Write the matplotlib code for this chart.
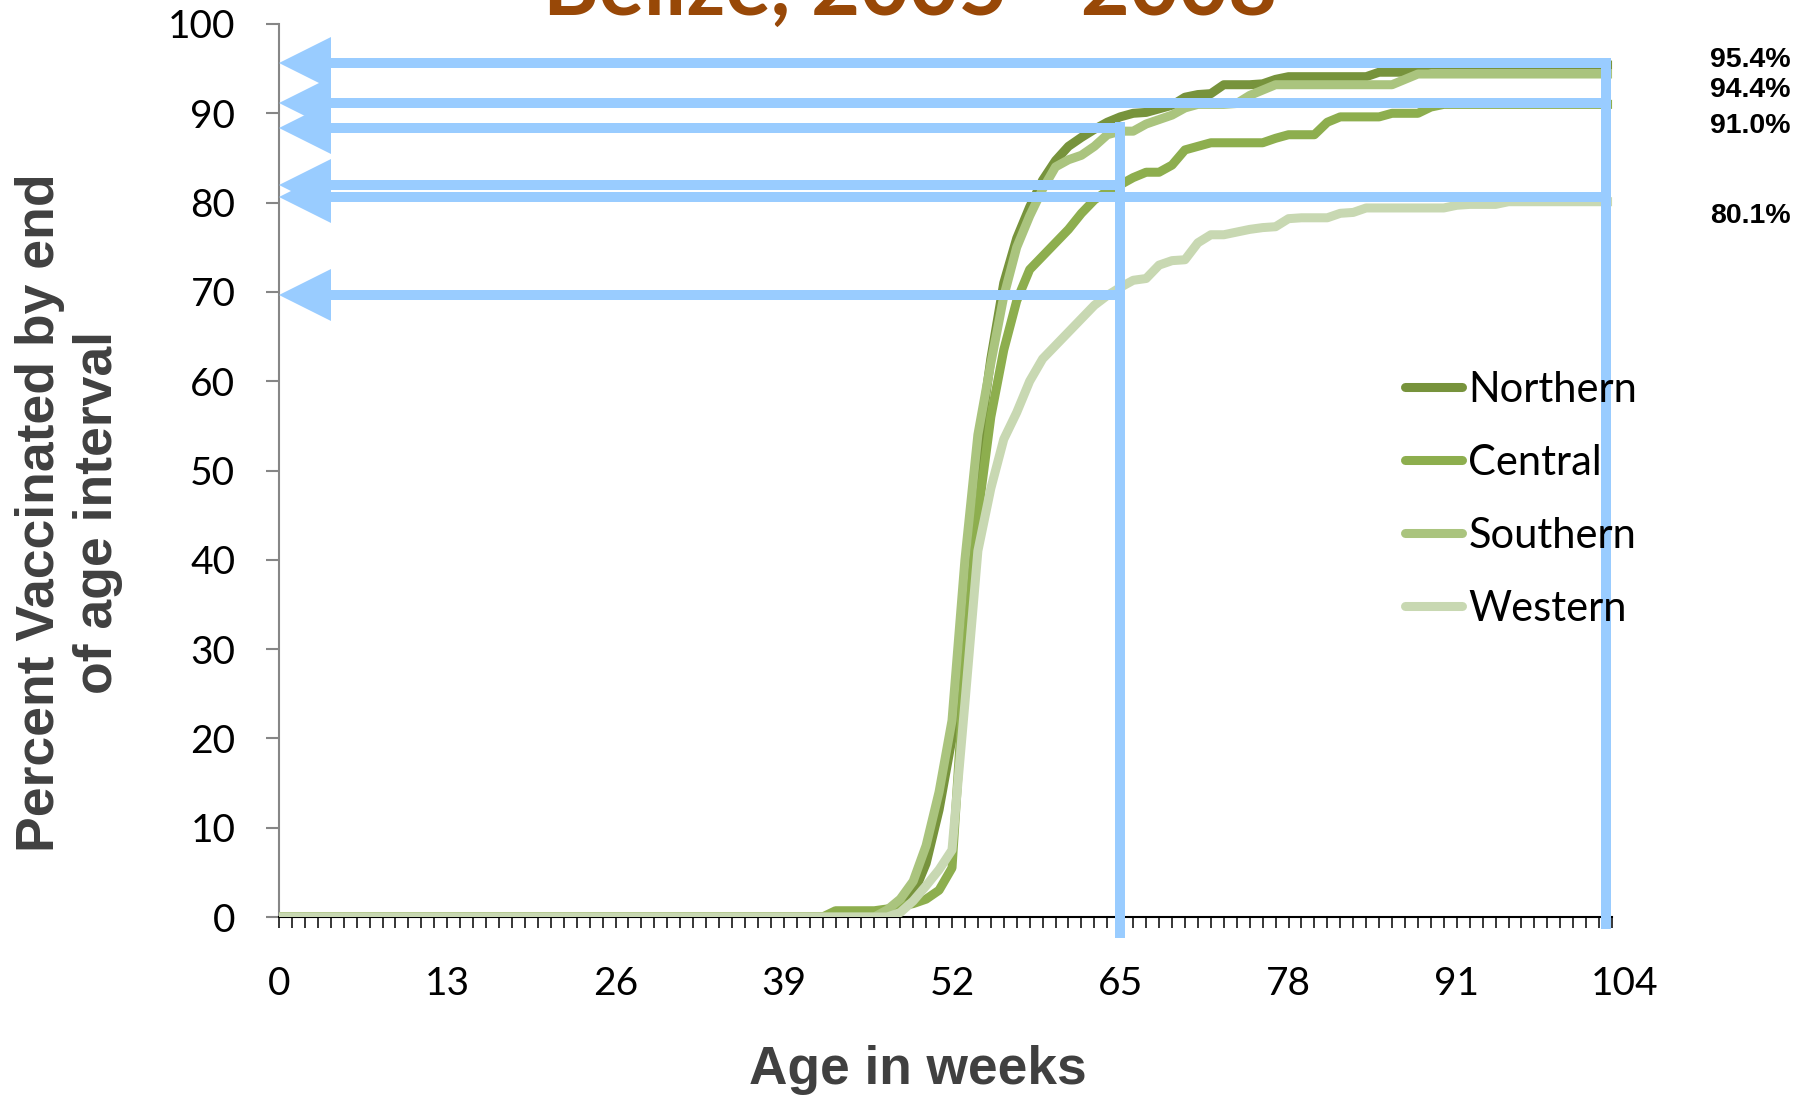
import matplotlib
matplotlib.use('Agg')
import matplotlib.pyplot as plt
from matplotlib.lines import Line2D
from matplotlib.ticker import FixedLocator, NullFormatter
from matplotlib.transforms import offset_copy

# ---------------- data ----------------
weeks = list(range(0, 104))

northern = [
    0, 0, 0, 0, 0, 0, 0, 0, 0, 0, 0, 0, 0,
    0, 0, 0, 0, 0, 0, 0, 0, 0, 0, 0, 0, 0,
    0, 0, 0, 0, 0, 0, 0, 0, 0, 0, 0, 0, 0,
    0, 0, 0, 0, 0, 0, 0, 0, 0.6, 1.2, 2.5, 6, 12,
    20, 38, 52, 62.5, 71, 76, 79.5, 82.5, 84.7, 86.3, 87.3, 88.2, 89.0,
    89.6, 90.0, 90.1, 90.5, 90.9, 91.8, 92.1, 92.2, 93.2, 93.2, 93.2, 93.3, 93.8,
    94.1, 94.1, 94.1, 94.1, 94.1, 94.1, 94.1, 94.6, 94.6, 94.6, 95.2, 95.4, 95.4,
    95.4, 95.4, 95.4, 95.4, 95.4, 95.4, 95.4, 95.4, 95.4, 95.4, 95.4, 95.4, 95.4]

central = [
    0, 0, 0, 0, 0, 0, 0, 0, 0, 0, 0, 0, 0,
    0, 0, 0, 0, 0, 0, 0, 0, 0, 0, 0, 0, 0,
    0, 0, 0, 0, 0, 0, 0, 0, 0, 0, 0, 0, 0,
    0, 0, 0, 0, 0.7, 0.7, 0.7, 0.7, 0.9, 1.2, 1.5, 2.0, 3.0,
    5.5, 28, 45, 56, 63.5, 69, 72.5, 74, 75.5, 77, 78.8, 80.3, 81.3,
    82.0, 82.8, 83.4, 83.4, 84.2, 85.9, 86.3, 86.7, 86.7, 86.7, 86.7, 86.7, 87.2,
    87.6, 87.6, 87.6, 89.0, 89.6, 89.6, 89.6, 89.6, 90.0, 90.0, 90.0, 90.7, 91.0,
    91.0, 91.0, 91.0, 91.0, 91.0, 91.0, 91.0, 91.0, 91.0, 91.0, 91.0, 91.0, 91.0]

southern = [
    0, 0, 0, 0, 0, 0, 0, 0, 0, 0, 0, 0, 0,
    0, 0, 0, 0, 0, 0, 0, 0, 0, 0, 0, 0, 0,
    0, 0, 0, 0, 0, 0, 0, 0, 0, 0, 0, 0, 0,
    0, 0, 0, 0, 0, 0, 0, 0, 0.8, 2.0, 4.0, 8.0, 14.0,
    22, 40, 54, 62, 69.5, 75, 78.5, 81.5, 84.0, 84.8, 85.3, 86.3, 87.6,
    88.0, 88.0, 88.8, 89.3, 89.8, 90.6, 91.0, 91.0, 91.0, 91.1, 92.0, 92.6, 93.2,
    93.2, 93.2, 93.2, 93.2, 93.2, 93.2, 93.2, 93.2, 93.2, 93.8, 94.4, 94.4, 94.4,
    94.4, 94.4, 94.4, 94.4, 94.4, 94.4, 94.4, 94.4, 94.4, 94.4, 94.4, 94.4, 94.4]

western = [
    0, 0, 0, 0, 0, 0, 0, 0, 0, 0, 0, 0, 0,
    0, 0, 0, 0, 0, 0, 0, 0, 0, 0, 0, 0, 0,
    0, 0, 0, 0, 0, 0, 0, 0, 0, 0, 0, 0, 0,
    0, 0, 0, 0, 0, 0, 0, 0, 0, 0.5, 1.8, 3.5, 5.3,
    7.5, 24, 41, 48, 53.5, 56.5, 60, 62.5, 64, 65.5, 67, 68.5, 69.6,
    70.5, 71.3, 71.5, 73.0, 73.5, 73.6, 75.5, 76.4, 76.4, 76.7, 77.0, 77.2, 77.3,
    78.2, 78.3, 78.3, 78.3, 78.8, 78.9, 79.4, 79.4, 79.4, 79.4, 79.4, 79.4, 79.4,
    79.7, 79.8, 79.8, 79.8, 80.1, 80.1, 80.1, 80.1, 80.1, 80.1, 80.1, 80.1, 80.1]

series_names = ["Northern", "Central", "Southern", "Western"]
series_values = [northern, central, southern, western]
series_colors = ["#77933C", "#8DAE4E", "#AAC47E", "#C8D8B2"]

x_tick_values = [0, 13, 26, 39, 52, 65, 78, 91, 104]
x_tick_labels = ["0", "13", "26", "39", "52", "65", "78", "91", "104"]
y_tick_values = [0, 10, 20, 30, 40, 50, 60, 70, 80, 90, 100]

# blue reference lines
mark_week_a = 65
mark_levels_a = [88.4, 82.0, 69.7]
mark_week_b = 102.5
mark_levels_b = [95.6, 91.2, 80.6]
vline_a = (-2.35, 89.0)
vline_b = (-1.35, 96.2)

end_labels = ["95.4%", "94.4%", "91.0%", "80.1%"]
end_label_y = [96.0, 92.6, 88.6, 78.5]
end_label_x = 110.6

title_text = "Belize, 2005 - 2008"
ylabel_text = "Percent Vaccinated by end\nof age interval"
xlabel_text = "Age in weeks"

# ---------------- figure ----------------
W, H, DPI = 1807, 1101, 100
fig = plt.figure(figsize=(W / DPI, H / DPI), dpi=DPI)
fig.patch.set_facecolor("white")

L, R, T, B = 279, 1625, 24, 917
ax = fig.add_axes([L / W, 1 - B / H, (R - L) / W, (B - T) / H])
ax.set_xlim(0, 104)
ax.set_ylim(0, 100)

lw_series = 6.5
for i, (name, vals, col) in enumerate(zip(series_names, series_values, series_colors)):
    ax.plot(weeks, vals, color=col, lw=lw_series, solid_joinstyle="round",
            solid_capstyle="butt", zorder=3 + i)

# spines
for s in ["top", "right"]:
    ax.spines[s].set_visible(False)
ax.spines["left"].set_color("#868686")
ax.spines["left"].set_linewidth(1.5)
ax.spines["bottom"].set_color("black")
ax.spines["bottom"].set_linewidth(1.5)
ax.spines["bottom"].set_bounds(0, weeks[-1])

tick_font = "Lato"
tick_size = 28
ax.set_yticks(y_tick_values)
ax.set_yticklabels([str(v) for v in y_tick_values], fontsize=tick_size, family=tick_font)
ax.tick_params(axis="y", which="major", direction="out", length=9.4, width=1.5,
               color="#868686", pad=22, labelcolor="black")

ax.xaxis.set_major_locator(FixedLocator(x_tick_values))
ax.set_xticklabels(x_tick_labels, fontsize=tick_size, family=tick_font)
ax.xaxis.set_minor_locator(FixedLocator(weeks))
ax.xaxis.set_minor_formatter(NullFormatter())
ax.xaxis.remove_overlapping_locs = False
ax.tick_params(axis="x", which="major", length=0, pad=35, labelcolor="black")
ax.tick_params(axis="x", which="minor", direction="out", length=7.9, width=1.1,
               color="black")

# ---------------- blue annotation lines ----------------
blue = "#99CCFF"
lw_blue = 7.2
head_pt = 37.5
head_px = head_pt * DPI / 72.0
fig.canvas.draw()
x0_disp = ax.transData.transform((0, 0))[0]
shaft_start = ax.transData.inverted().transform((x0_disp + head_px * 0.7, 0))[0]
head_trans = offset_copy(ax.transData, fig=fig, x=head_pt / 2.0, y=0, units="points")

for wk, levels in [(mark_week_a, mark_levels_a), (mark_week_b, mark_levels_b)]:
    for lv in levels:
        ax.plot([shaft_start, wk], [lv, lv], color=blue, lw=lw_blue,
                solid_capstyle="butt", zorder=10, clip_on=False)
        ax.plot([0], [lv], marker="<", ms=head_pt, color=blue, mew=0,
                transform=head_trans, zorder=10, clip_on=False)

ax.plot([mark_week_a, mark_week_a], list(vline_a), color=blue, lw=lw_blue,
        solid_capstyle="butt", zorder=10, clip_on=False)
ax.plot([mark_week_b, mark_week_b], list(vline_b), color=blue, lw=lw_blue,
        solid_capstyle="butt", zorder=10, clip_on=False)

for txt, yv in zip(end_labels, end_label_y):
    ax.text(end_label_x, yv, txt, fontsize=20.5, fontweight="bold",
            family="Liberation Sans", color="black", ha="left", va="center",
            clip_on=False)

# ---------------- legend ----------------
handles = [Line2D([0], [0], color=c, lw=lw_series, solid_capstyle="round")
           for c in series_colors]
leg = fig.legend(handles, series_names, loc="upper left",
                 bbox_to_anchor=(1405 / W, 1 - 371 / H), frameon=False,
                 prop={"family": tick_font, "size": 30}, borderpad=0,
                 borderaxespad=0, handlelength=1.37, handletextpad=0.15,
                 labelspacing=0.84)

# ---------------- texts ----------------
fig.text(910 / W, 1 - 15 / H, title_text, ha="center", va="baseline",
         fontsize=61, fontweight="bold", family="Lato", color="#984807")
fig.text(69 / W, 1 - 513 / H, ylabel_text, rotation=90, ha="center", va="center",
         multialignment="center", fontsize=38.5, fontweight="bold",
         family="Liberation Sans", color="#404040", linespacing=1.2)
fig.text(918 / W, 1 - 1084 / H, xlabel_text, ha="center", va="baseline",
         fontsize=38.3, fontweight="bold", family="Liberation Sans", color="#404040")

fig.savefig("out.png", dpi=DPI, facecolor="white")
